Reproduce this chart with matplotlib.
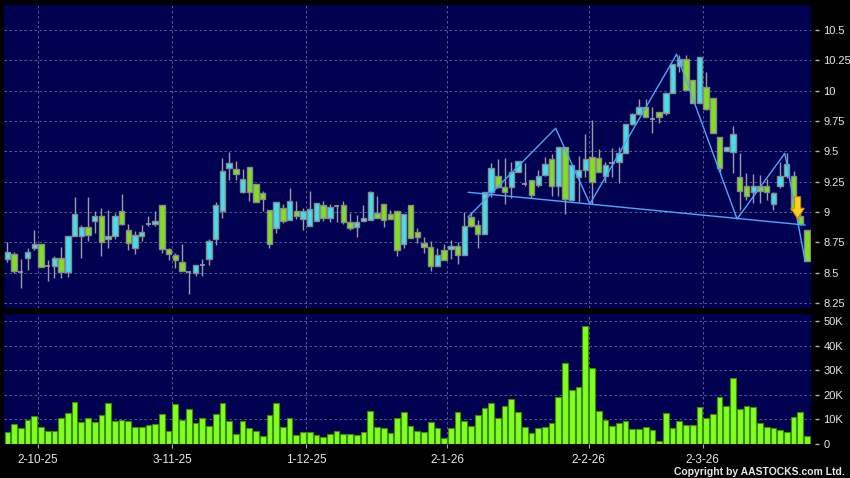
import matplotlib
matplotlib.use('Agg')
import matplotlib.pyplot as plt
from matplotlib.patches import FancyArrow
import numpy as np

# daily OHLC
opens = [
    8.615, 8.654, 8.506, 8.621, 8.703, 8.736, 8.552, 8.558, 8.621, 8.506,
    8.800, 8.800, 8.874, 8.923, 8.964, 8.778, 8.800, 9.006, 8.849, 8.703,
    8.800, 8.901, 8.904, 9.055, 8.695, 8.643, 8.588, 8.506, 8.497, 8.561,
    8.615, 8.780, 9.011, 9.363, 9.354, 9.165, 9.368, 9.231, 9.157, 9.014,
    8.868, 9.033, 8.937, 9.006, 8.945, 8.887, 8.929, 9.055, 8.951, 9.047,
    9.055, 8.918, 8.876, 8.923, 8.937, 8.992, 9.066, 8.986, 9.006, 8.736,
    9.060, 8.835, 8.745, 8.712, 8.555, 8.689, 8.697, 8.719, 8.642, 8.962,
    8.894, 8.820, 9.162, 9.293, 9.208, 9.203, 9.332, 9.230, 9.263, 9.222,
    9.307, 9.435, 9.217, 9.537, 9.099, 9.290, 9.345, 9.449, 9.444, 9.299,
    9.401, 9.409, 9.483, 9.722, 9.806, 9.867, 9.763, 9.826, 9.812, 9.984,
    10.201, 10.264, 10.086, 9.900, 10.031, 9.941, 9.620, 9.503, 9.492, 9.292,
    9.210, 9.168, 9.210, 9.210, 9.067, 9.210, 9.300, 9.300, 8.963, 8.854,
]
closes = [
    8.668, 8.511, 8.506, 8.670, 8.736, 8.547, 8.552, 8.621, 8.506, 8.800,
    8.984, 8.874, 8.813, 8.964, 8.753, 8.800, 8.970, 8.904, 8.745, 8.808,
    8.833, 8.901, 8.929, 8.698, 8.654, 8.602, 8.517, 8.506, 8.561, 8.561,
    8.764, 9.055, 9.341, 9.404, 9.313, 9.272, 9.165, 9.082, 9.107, 8.736,
    9.082, 8.929, 9.088, 8.970, 9.011, 9.025, 9.074, 8.951, 9.039, 9.047,
    8.920, 8.868, 8.918, 8.951, 9.165, 8.951, 8.937, 8.942, 8.690, 8.984,
    8.786, 8.791, 8.712, 8.552, 8.648, 8.607, 8.719, 8.642, 8.883, 8.880,
    8.820, 9.162, 9.359, 9.208, 9.167, 9.332, 9.416, 9.230, 9.140, 9.299,
    9.394, 9.217, 9.537, 9.107, 9.386, 9.345, 9.435, 9.244, 9.332, 9.386,
    9.401, 9.483, 9.722, 9.806, 9.867, 9.785, 9.763, 9.779, 9.984, 10.223,
    10.264, 10.004, 9.900, 10.277, 9.848, 9.648, 9.360, 9.538, 9.639, 9.174,
    9.133, 9.210, 9.174, 9.168, 9.155, 9.300, 9.393, 9.018, 8.900, 8.594,
]
highs = [
    8.753, 8.670, 8.615, 8.703, 8.854, 8.736, 8.602, 8.635, 8.709, 8.800,
    9.124, 8.896, 9.124, 9.006, 9.033, 9.019, 8.992, 9.151, 8.904, 8.841,
    8.896, 8.964, 9.011, 9.055, 8.703, 8.662, 8.739, 8.517, 8.566, 8.615,
    8.780, 9.082, 9.445, 9.492, 9.418, 9.354, 9.368, 9.231, 9.170, 9.014,
    9.082, 9.066, 9.198, 9.093, 9.033, 9.176, 9.074, 9.093, 9.066, 9.060,
    9.088, 8.992, 8.978, 9.060, 9.176, 9.135, 9.066, 9.014, 9.011, 8.984,
    9.060, 8.868, 8.791, 8.758, 8.703, 8.738, 8.765, 8.752, 9.003, 9.003,
    8.930, 9.162, 9.400, 9.435, 9.441, 9.414, 9.416, 9.403, 9.263, 9.345,
    9.449, 9.476, 9.537, 9.537, 9.386, 9.463, 9.641, 9.755, 9.518, 9.414,
    9.530, 9.533, 9.722, 9.817, 9.927, 9.927, 9.867, 9.826, 9.984, 10.223,
    10.291, 10.291, 10.086, 10.277, 10.154, 9.941, 9.620, 9.538, 9.708, 9.483,
    9.319, 9.311, 9.305, 9.270, 9.168, 9.415, 9.483, 9.338, 9.045, 8.854,
]
lows = [
    8.588, 8.497, 8.374, 8.525, 8.690, 8.547, 8.429, 8.456, 8.456, 8.462,
    8.800, 8.621, 8.758, 8.827, 8.635, 8.703, 8.778, 8.896, 8.690, 8.657,
    8.758, 8.882, 8.887, 8.662, 8.607, 8.539, 8.511, 8.324, 8.470, 8.475,
    8.566, 8.731, 8.951, 9.267, 9.267, 9.157, 9.088, 9.082, 9.011, 8.703,
    8.827, 8.909, 8.937, 8.942, 8.854, 8.887, 8.929, 8.923, 8.915, 8.915,
    8.901, 8.854, 8.791, 8.923, 8.937, 8.951, 8.874, 8.942, 8.635, 8.703,
    8.786, 8.745, 8.662, 8.511, 8.555, 8.601, 8.615, 8.574, 8.642, 8.875,
    8.703, 8.820, 9.121, 9.198, 9.066, 9.113, 9.332, 9.217, 9.113, 9.203,
    9.299, 9.135, 9.135, 8.984, 9.094, 9.080, 9.285, 9.066, 9.326, 9.244,
    9.292, 9.242, 9.483, 9.716, 9.798, 9.779, 9.648, 9.730, 9.798, 9.984,
    10.154, 10.004, 9.900, 9.900, 9.839, 9.648, 9.333, 9.503, 9.319, 9.018,
    9.100, 9.073, 9.073, 9.100, 9.018, 9.196, 9.278, 9.018, 8.895, 8.594,
]
# volume in thousands
volumes = [
    5.0, 8.1, 6.6, 9.9, 11.2, 7.0, 5.4, 5.4, 10.4, 12.6,
    17.2, 8.8, 10.7, 9.1, 11.6, 16.8, 9.5, 9.7, 9.2, 6.9,
    7.0, 7.8, 8.1, 12.2, 5.1, 16.1, 9.6, 14.1, 8.4, 10.5,
    7.4, 12.3, 16.8, 9.3, 4.2, 9.2, 6.4, 5.4, 3.4, 11.8,
    16.6, 7.0, 10.7, 3.6, 4.7, 4.7, 3.8, 3.0, 3.9, 5.1,
    4.2, 4.2, 3.6, 5.0, 13.5, 6.8, 6.4, 4.6, 10.7, 13.1,
    7.4, 5.1, 4.7, 8.8, 6.4, 2.3, 6.4, 13.1, 9.2, 7.2,
    11.8, 14.5, 16.6, 10.5, 15.5, 18.2, 13.2, 6.8, 4.3, 6.5,
    7.0, 8.5, 19.2, 33.1, 22.0, 23.2, 48.0, 30.8, 13.5, 9.9,
    7.4, 8.5, 9.5, 6.1, 6.1, 7.0, 5.7, 1.4, 12.8, 6.4,
    9.2, 7.8, 7.7, 14.9, 10.4, 12.4, 19.2, 15.5, 27.0, 14.2,
    15.5, 14.9, 8.4, 6.8, 6.4, 5.8, 4.7, 10.8, 13.1, 3.4,
]

date_labels = ['2-10-25', '3-11-25', '1-12-25', '2-1-26', '2-2-26', '2-3-26']
date_index = [4, 24, 44, 65, 86, 103]

price_ticks = [8.25, 8.5, 8.75, 9, 9.25, 9.5, 9.75, 10, 10.25, 10.5]
price_labels = ['8.25', '8.5', '8.75', '9', '9.25', '9.5', '9.75', '10', '10.25', '10.5']
vol_ticks = [0, 10, 20, 30, 40, 50]
vol_labels = ['0', '10K', '20K', '30K', '40K', '50K']

# hand drawn pattern lines (bar index, price)
zigzag_x = [68.6, 81.6, 86.7, 99.6, 108.6, 115.7, 118.7]
zigzag_y = [8.96, 9.69, 9.066, 10.30, 8.942, 9.483, 8.604]
neck_x = [68.6, 118.7]
neck_y = [9.162, 8.892]
arrow_x = 117.6
arrow_from, arrow_to = 9.125, 8.945

BG = '#000050'
UP = '#40e0f0'
DOWN = '#80e020'
GRID = '#6a6a9a'
TXT = '#e8e8e8'

fig = plt.figure(figsize=(8.5, 4.78), dpi=100, facecolor='black')
ax = fig.add_axes([4/850, 1-308/478, 807/850, 303/478])
axv = fig.add_axes([4/850, 1-444/478, 807/850, 130/478], sharex=ax)

x = np.arange(len(opens))
o = np.array(opens); c = np.array(closes)
h = np.array(highs); l = np.array(lows)

for a in (ax, axv):
    a.set_facecolor(BG)
    for s in a.spines.values():
        s.set_color('none')
    a.spines['right'].set_position(('outward', 3))
    a.yaxis.tick_right()
    a.tick_params(axis='y', length=3, width=1, color='#b0b0b0', pad=3,
                  labelcolor=TXT, labelsize=8)
    a.grid(True, color=GRID, linestyle=(0, (3, 3)), linewidth=0.6)
    a.set_axisbelow(True)

# candles
ax.vlines(x, l, h, color='#9a9aaa', linewidth=1, zorder=2)
up = c > o
dn = c < o
ax.bar(x[up], (c - o)[up], bottom=o[up], width=0.8, color=UP,
       edgecolor='#8a8a8a', linewidth=1, zorder=3)
ax.bar(x[dn], (o - c)[dn], bottom=c[dn], width=0.8, color=DOWN,
       edgecolor='#8a8a8a', linewidth=1, zorder=3)
doji = c == o
ax.hlines(c[doji], x[doji] - 0.4, x[doji] + 0.4, color='#9a9aaa', linewidth=1.2, zorder=3)

# pattern lines
ax.plot(zigzag_x, zigzag_y, color='#4aa8ff', linewidth=1, zorder=4)
ax.plot(neck_x, neck_y, color='#4aa8ff', linewidth=1, zorder=4)
ax.add_patch(FancyArrow(arrow_x, arrow_from, 0, arrow_to - arrow_from,
                        width=0.9, head_width=2.0, head_length=0.085,
                        length_includes_head=True, fc='#f8d020', ec='#d08800',
                        lw=0.8, zorder=5))

ax.set_xlim(-0.5, 119.6)
ax.set_ylim(8.208, 10.706)
ax.set_yticks(price_ticks)
ax.set_yticklabels(price_labels, family='Liberation Sans')
ax.set_xticks([i + 0.5 for i in date_index])
ax.tick_params(axis='x', length=0, labelbottom=False)

# volume
axv.bar(x, volumes, width=0.85, color='#80ff20', edgecolor='#3c8c00', linewidth=0.8, zorder=3)
axv.set_ylim(0, 52.9)
axv.set_yticks(vol_ticks)
axv.set_yticklabels(vol_labels, family='Liberation Sans')
axv.set_xticks([i + 0.5 for i in date_index])
axv.set_xticklabels(date_labels, family='Liberation Sans')
axv.tick_params(axis='x', length=3, color='#b0b0b0', labelcolor=TXT, labelsize=8.5, pad=4)

fig.text(845/850, 1 - 472/478, 'Copyright by AASTOCKS.com Ltd.', color=TXT,
         fontsize=7.5, fontweight='bold', family='Liberation Sans',
         ha='right', va='center')

fig.savefig('out.png', dpi=100, facecolor='black')
